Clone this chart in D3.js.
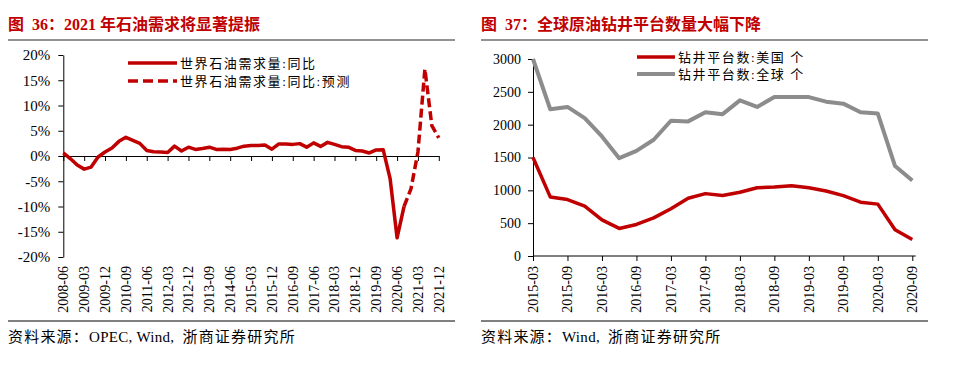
<!DOCTYPE html>
<html>
<head>
<meta charset="utf-8">
<script src="https://cdnjs.cloudflare.com/ajax/libs/d3/7.8.5/d3.min.js"></script>
<style>
  body { margin: 0; background: #fff; }
  svg { display: block; }
  text { font-family: "Liberation Serif", "Noto Sans CJK SC", serif; fill: #000; }
</style>
</head>
<body>
<svg id="chart" width="958" height="370"></svg>
<script>
// ---- figure 36: world oil demand yoy, quarterly
const demandDates = [
  "2008-06","2008-09","2008-12",
  "2009-03","2009-06","2009-09","2009-12",
  "2010-03","2010-06","2010-09","2010-12",
  "2011-03","2011-06","2011-09","2011-12",
  "2012-03","2012-06","2012-09","2012-12",
  "2013-03","2013-06","2013-09","2013-12",
  "2014-03","2014-06","2014-09","2014-12",
  "2015-03","2015-06","2015-09","2015-12",
  "2016-03","2016-06","2016-09","2016-12",
  "2017-03","2017-06","2017-09","2017-12",
  "2018-03","2018-06","2018-09","2018-12",
  "2019-03","2019-06","2019-09","2019-12",
  "2020-03","2020-06","2020-09","2020-12",
  "2021-03","2021-06","2021-09","2021-12"
];
const demandActual = [
  0.6, -0.5, -1.8,
  -2.6, -2.2, -0.2, 0.8,
  1.6, 2.9, 3.7, 3.1,
  2.5, 1.1, 0.85, 0.8,
  0.7, 1.95, 1.0, 1.75,
  1.3, 1.5, 1.75, 1.3,
  1.35, 1.3, 1.55, 1.95,
  2.1, 2.1, 2.2, 1.35,
  2.4, 2.4, 2.3, 2.45,
  1.75, 2.6, 1.9, 2.7,
  2.3, 1.85, 1.75, 1.1,
  1.0, 0.6, 1.2, 1.25,
  -4.5, -16.2, -10.0
];
const forecastDates = ["2020-09","2020-12","2021-03","2021-06","2021-09","2021-12"];
const demandForecast = [-10.0, -6.5, 0.8, 17.2, 6.0, 3.6];
const demandTicks = [-20, -15, -10, -5, 0, 5, 10, 15, 20];
const demandLegend = ["世界石油需求量:同比", "世界石油需求量:同比:预测"];

// ---- figure 37: rig counts, quarterly
const rigDates = [
  "2015-03","2015-06","2015-09","2015-12",
  "2016-03","2016-06","2016-09","2016-12",
  "2017-03","2017-06","2017-09","2017-12",
  "2018-03","2018-06","2018-09","2018-12",
  "2019-03","2019-06","2019-09","2019-12",
  "2020-03","2020-06","2020-09"
];
const usRigs = [1500, 900, 860, 760, 550, 420, 480, 580, 720, 880, 950, 920,
                970, 1040, 1050, 1070, 1040, 990, 920, 820, 790, 400, 250];
const globalRigs = [3000, 2235, 2270, 2100, 1820, 1490, 1600, 1770, 2060, 2050, 2190, 2160,
                    2370, 2270, 2420, 2420, 2420, 2350, 2320, 2190, 2170, 1370, 1150];
const rigTicks = [0, 500, 1000, 1500, 2000, 2500, 3000];
const rigLegend = ["钻井平台数:美国 个", "钻井平台数:全球 个"];

const RED = "#c00000",
      GREY = "#8c8c8c",
      TITLE = "#c00000";

const svg = d3.select("#chart");

// source line: [text, letter-spacing] parts, CJK parts spread, latin normal
function frame(x0, x1, title, sourceParts) {
    // title + rules
    svg.append("text")
       .attr("x", x0).attr("y", 30)
       .style("font-size", "16px")
       .style("font-weight", "bold")
       .style("white-space", "pre")
       .style("fill", TITLE)
       .text(title);
    svg.append("line")
       .attr("x1", x0).attr("x2", x1).attr("y1", 40).attr("y2", 40)
       .attr("stroke", "#6e6e6e").attr("stroke-width", 1.5);
    svg.append("line")
       .attr("x1", x0).attr("x2", x1).attr("y1", 321).attr("y2", 321)
       .attr("stroke", "#000").attr("stroke-width", 1);
    const src = svg.append("text")
       .attr("x", x0).attr("y", 342)
       .style("font-size", "15px")
       .style("white-space", "pre");
    sourceParts.forEach(p => {
        src.append("tspan").style("letter-spacing", p[1] + "px").text(p[0]);
    });
}

function dateLabels(g, x, dates, yTop) {
    g.selectAll("text.xl")
     .data(dates)
     .join("text")
       .attr("class", "xl")
       .attr("transform", d => `translate(${x(d)},${yTop}) rotate(-90)`)
       .attr("dy", "0.35em")
       .style("text-anchor", "end")
       .style("font-size", "14px")
       .text(d => d);
}

function legend(g, items, x, y, lineLen, gap) {
    items.forEach((it, i) => {
        const yy = y + i * gap;
        g.append("line")
         .attr("x1", x).attr("x2", x + lineLen)
         .attr("y1", yy).attr("y2", yy)
         .attr("stroke", it.color)
         .attr("stroke-width", it.width)
         .attr("stroke-dasharray", it.dash || null);
        g.append("text")
         .attr("x", x + lineLen + 3).attr("y", yy)
         .attr("dy", "0.35em")
         .style("font-size", "13px")
         .style("letter-spacing", "1.6px")
         .style("white-space", "pre")
         .text(it.label);
    });
}

// ================= left chart =================
frame(8, 455, "图  36：2021 年石油需求将显著提振",
      [["资料来源：", 1.2], ["OPEC, Wind,  ", 0.3], ["浙商证券研究所", 1.2]]);

const left = svg.append("g").attr("class", "chart-left");

const x1 = d3.scalePoint()
             .domain(demandDates)
             .range([63.3, 438.8]);

const y1 = d3.scaleLinear()
             .domain([-20, 20])
             .range([257, 55]);

// y axis
left.append("g").attr("class", "axis y-axis")
    .attr("transform", `translate(${x1(demandDates[0])},0)`)
    .call(d3.axisLeft(y1).tickValues(demandTicks).tickSize(5).tickSizeOuter(0)
            .tickFormat(d => d + "%"))
    .call(g => g.selectAll("text").style("font-size", "15px").attr("x", -13))
    .call(g => g.select(".domain").attr("stroke", "#000"));

// x axis sits on zero
const demandTickDates = demandDates.filter((d, i) => i % 3 === 0);
left.append("g").attr("class", "axis x-axis")
    .attr("transform", `translate(0,${y1(0)})`)
    .call(d3.axisBottom(x1).tickValues(demandTickDates).tickSize(5).tickSizeOuter(0).tickFormat(""))
    .call(g => g.select(".domain").attr("stroke", "#000"));

dateLabels(left, x1, demandTickDates, 266);

const actualPts = demandActual.map((v, i) => ({d: demandDates[i], v}));
const forecastPts = demandForecast.map((v, i) => ({d: forecastDates[i], v}));

const line1 = d3.line().x(p => x1(p.d)).y(p => y1(p.v));

left.append("path")
    .datum(forecastPts)
    .attr("fill", "none")
    .attr("stroke", RED)
    .attr("stroke-width", 3.5)
    .attr("stroke-dasharray", "9,4")
    .attr("d", line1);

left.append("path")
    .datum(actualPts)
    .attr("fill", "none")
    .attr("stroke", RED)
    .attr("stroke-width", 3.5)
    .attr("stroke-linejoin", "round")
    .attr("d", line1);

legend(left, [
    {label: demandLegend[0], color: RED, width: 3.5},
    {label: demandLegend[1], color: RED, width: 3.5, dash: "10,5"}
], 128, 63, 49, 18);

// ================= right chart =================
frame(481, 928, "图  37：全球原油钻井平台数量大幅下降",
      [["资料来源：", 1.2], ["Wind,  ", 0.3], ["浙商证券研究所", 1.2]]);

const right = svg.append("g").attr("class", "chart-right");

const x2 = d3.scalePoint()
             .domain(rigDates)
             .range([533, 912.3]);

const y2 = d3.scaleLinear()
             .domain([0, 3000])
             .range([256, 59]);

right.append("g").attr("class", "axis y-axis")
     .attr("transform", `translate(${x2(rigDates[0])},0)`)
     .call(d3.axisLeft(y2).tickValues(rigTicks).tickSize(5).tickSizeOuter(0).tickFormat(d3.format("d")))
     .call(g => g.selectAll("text").style("font-size", "14px").attr("x", -12))
     .call(g => g.select(".domain").attr("stroke", "#000"));

const rigTickDates = rigDates.filter((d, i) => i % 2 === 0);
right.append("g").attr("class", "axis x-axis")
     .attr("transform", `translate(0,${y2(0)})`)
     .call(d3.axisBottom(x2).tickValues(rigTickDates).tickSize(5).tickSizeOuter(0).tickFormat(""))
     .call(g => g.select(".domain").attr("stroke", "#000").attr("d", "M533,0H915.7"));

dateLabels(right, x2, rigTickDates, 266);

const line2 = d3.line().x((v, i) => x2(rigDates[i])).y(v => y2(v));

right.append("path")
     .datum(globalRigs)
     .attr("fill", "none")
     .attr("stroke", GREY)
     .attr("stroke-width", 4)
     .attr("stroke-linejoin", "round")
     .attr("d", line2);

right.append("path")
     .datum(usRigs)
     .attr("fill", "none")
     .attr("stroke", RED)
     .attr("stroke-width", 3.5)
     .attr("stroke-linejoin", "round")
     .attr("d", line2);

legend(right, [
    {label: rigLegend[0], color: RED, width: 3.5},
    {label: rigLegend[1], color: GREY, width: 4}
], 637, 57, 38, 17);
</script>
</body>
</html>
